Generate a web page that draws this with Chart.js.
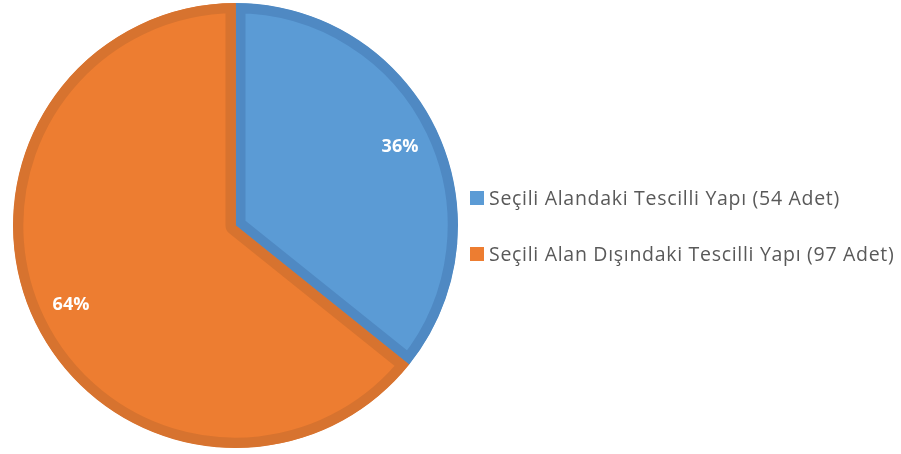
<!DOCTYPE html>
<html lang="tr">
<head>
<meta charset="UTF-8">
<title>Tescilli Yapılar</title>
<script src="https://cdn.jsdelivr.net/npm/chart.js"></script>
<style>
  html, body { margin: 0; padding: 0; background: #fff; }
  #wrap { position: relative; width: 901px; height: 454px; }
  #legend { position: absolute; left: 470px; top: 0; font-family: "Open Sans", sans-serif; font-size: 19.5px; letter-spacing: 0.7px; line-height: 26px; color: #595959; }
  .item { position: absolute; white-space: nowrap; display: flex; align-items: center; }
  .box { width: 14px; height: 14px; margin-right: 5px; flex: none; }
</style>
</head>
<body>
<div id="wrap">
  <canvas id="pie" width="901" height="454"></canvas>
  <div id="legend"></div>
</div>
<script>
const labels = ['Seçili Alandaki Tescilli Yapı (54 Adet)', 'Seçili Alan Dışındaki Tescilli Yapı (97 Adet)'];
const counts = [54, 97];
const fills = ['#5b9bd5', '#ed7d31'];
const edges = ['#4f89c3', '#d7732f'];
const legendTops = [185, 241];

// percentage labels inside the slices
const pctLabels = {
  id: 'pctLabels',
  afterDatasetsDraw(chart) {
    const ctx = chart.ctx;
    const meta = chart.getDatasetMeta(0);
    const total = counts.reduce((a, b) => a + b, 0);
    ctx.save();
    ctx.font = 'bold 18px "Open Sans", sans-serif';
    ctx.fillStyle = '#ffffff';
    ctx.textAlign = 'center';
    ctx.textBaseline = 'middle';
    meta.data.forEach((arc, i) => {
      const p = arc.getProps(['x', 'y', 'startAngle', 'endAngle', 'outerRadius']);
      const mid = (p.startAngle + p.endAngle) / 2;
      const r = p.outerRadius * 0.82;
      const pct = Math.round(counts[i] / total * 100) + '%';
      ctx.fillText(pct, p.x + Math.cos(mid) * r, p.y + Math.sin(mid) * r);
    });
    ctx.restore();
  }
};

new Chart(document.getElementById('pie'), {
  type: 'pie',
  data: {
    labels: labels,
    datasets: [{
      data: counts,
      backgroundColor: fills,
      borderColor: edges,
      borderWidth: 10,
      borderAlign: 'inner'
    }]
  },
  options: {
    responsive: false,
    animation: false,
    layout: { padding: { left: 13, top: 3, right: 443, bottom: 6 } },
    plugins: { legend: { display: false }, tooltip: { enabled: false } }
  },
  plugins: [pctLabels]
});

const legend = document.getElementById('legend');
labels.forEach((text, i) => {
  const item = document.createElement('div');
  item.className = 'item';
  item.style.top = legendTops[i] + 'px';
  item.innerHTML = '<span class="box" style="background:' + fills[i] + '"></span><span>' + text + '</span>';
  legend.appendChild(item);
});
</script>
</body>
</html>
